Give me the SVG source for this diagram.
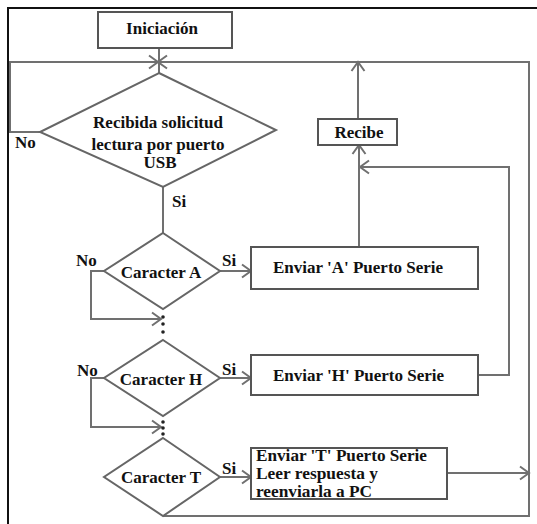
<svg xmlns="http://www.w3.org/2000/svg" width="537" height="524" viewBox="0 0 537 524">
<defs>
<style>
.frame{stroke:#111;stroke-width:2;fill:none}
.box{fill:#fff;stroke:#555;stroke-width:2}
.dia{fill:#fff;stroke:#666;stroke-width:2}
.ln{fill:none;stroke:#707070;stroke-width:2}
.t{font-family:"Liberation Serif","Times New Roman",serif;font-weight:bold;font-size:17px;fill:#111}
.c{text-anchor:middle}
.dot{fill:#222}
</style>
<marker id="ah" markerUnits="userSpaceOnUse" markerWidth="14" markerHeight="16" viewBox="0 0 14 16" refX="12" refY="8" orient="auto" overflow="visible">
<path d="M3,1.5 L12,8 L3,14.5" fill="none" stroke="#707070" stroke-width="2"/>
</marker>
</defs>
<rect width="537" height="524" fill="#fff"/>
<path class="frame" d="M8,524 V8 H537"/>

<g id="connectors">
<path class="ln" d="M159,48 V73"/>
<path class="ln" d="M40,132 H10 V62 H158" marker-end="url(#ah)"/>
<path class="ln" d="M163,516 H529 V62 H158" marker-end="url(#ah)"/>
<path class="ln" d="M163,187 V233"/>
<path class="ln" d="M220,271 H251" marker-end="url(#ah)"/>
<path class="ln" d="M104,271 H91 V319 H161" marker-end="url(#ah)"/>
<path class="ln" d="M220,378 H251" marker-end="url(#ah)"/>
<path class="ln" d="M104,378 H91 V427 H161" marker-end="url(#ah)"/>
<path class="ln" d="M220,477 H251" marker-end="url(#ah)"/>
<path class="ln" d="M447,473 H529" marker-end="url(#ah)"/>
<path class="ln" d="M359,247 V145" marker-end="url(#ah)"/>
<path class="ln" d="M358,119 V62" marker-end="url(#ah)"/>
<path class="ln" d="M478,375 H509 V167 H360" marker-end="url(#ah)"/>
<circle class="dot" cx="163" cy="317" r="1.8"/>
<circle class="dot" cx="163" cy="324" r="1.8"/>
<circle class="dot" cx="163" cy="332" r="1.8"/>
<circle class="dot" cx="163" cy="422" r="1.8"/>
<circle class="dot" cx="163" cy="428" r="1.8"/>
<circle class="dot" cx="163" cy="434" r="1.8"/>
</g>

<g id="labels">
<text class="t" x="15" y="148">No</text>
<text class="t" x="172" y="207">Si</text>
<text class="t" x="76" y="266">No</text>
<text class="t" x="222" y="266">Si</text>
<text class="t" x="77" y="376">No</text>
<text class="t" x="222" y="375">Si</text>
<text class="t" x="222" y="474">Si</text>
</g>

<g id="inicio">
<rect class="box" x="98" y="12" width="134" height="36"/>
<text class="t c" x="162" y="34">Iniciación</text>
</g>

<g id="solicitud">
<polygon class="dia" points="159,73 276,130 163,187 40,132"/>
<text class="t c" x="158" y="128" font-size="16">Recibida solicitud</text>
<text class="t c" x="158" y="150" font-size="16">lectura por puerto</text>
<text class="t c" x="160" y="168" font-size="16">USB</text>
</g>

<g id="recibe">
<rect class="box" x="318" y="119" width="79" height="26"/>
<text class="t c" x="359" y="138">Recibe</text>
</g>

<g id="caracterA">
<polygon class="dia" points="163,233 220,271 163,309 104,271"/>
<text class="t c" x="161" y="278">Caracter A</text>
</g>

<g id="enviarA">
<rect class="box" x="251" y="247" width="227" height="42"/>
<text class="t" x="273" y="273">Enviar 'A' Puerto Serie</text>
</g>

<g id="caracterH">
<polygon class="dia" points="163,340 220,378 163,416 104,378"/>
<text class="t c" x="161" y="385">Caracter H</text>
</g>

<g id="enviarH">
<rect class="box" x="251" y="355" width="227" height="40"/>
<text class="t" x="273" y="381">Enviar 'H' Puerto Serie</text>
</g>

<g id="caracterT">
<polygon class="dia" points="163,438 220,477 163,516 104,477"/>
<text class="t c" x="161" y="483">Caracter T</text>
</g>

<g id="enviarT">
<rect class="box" x="251" y="448" width="196" height="51"/>
<text class="t" x="256" y="461" font-size="14.5" textLength="171" lengthAdjust="spacingAndGlyphs">Enviar 'T' Puerto Serie</text>
<text class="t" x="256" y="479" font-size="14.5" textLength="122" lengthAdjust="spacingAndGlyphs">Leer respuesta y</text>
<text class="t" x="256" y="497" font-size="14.5" textLength="116" lengthAdjust="spacingAndGlyphs">reenviarla a PC</text>
</g>
</svg>
